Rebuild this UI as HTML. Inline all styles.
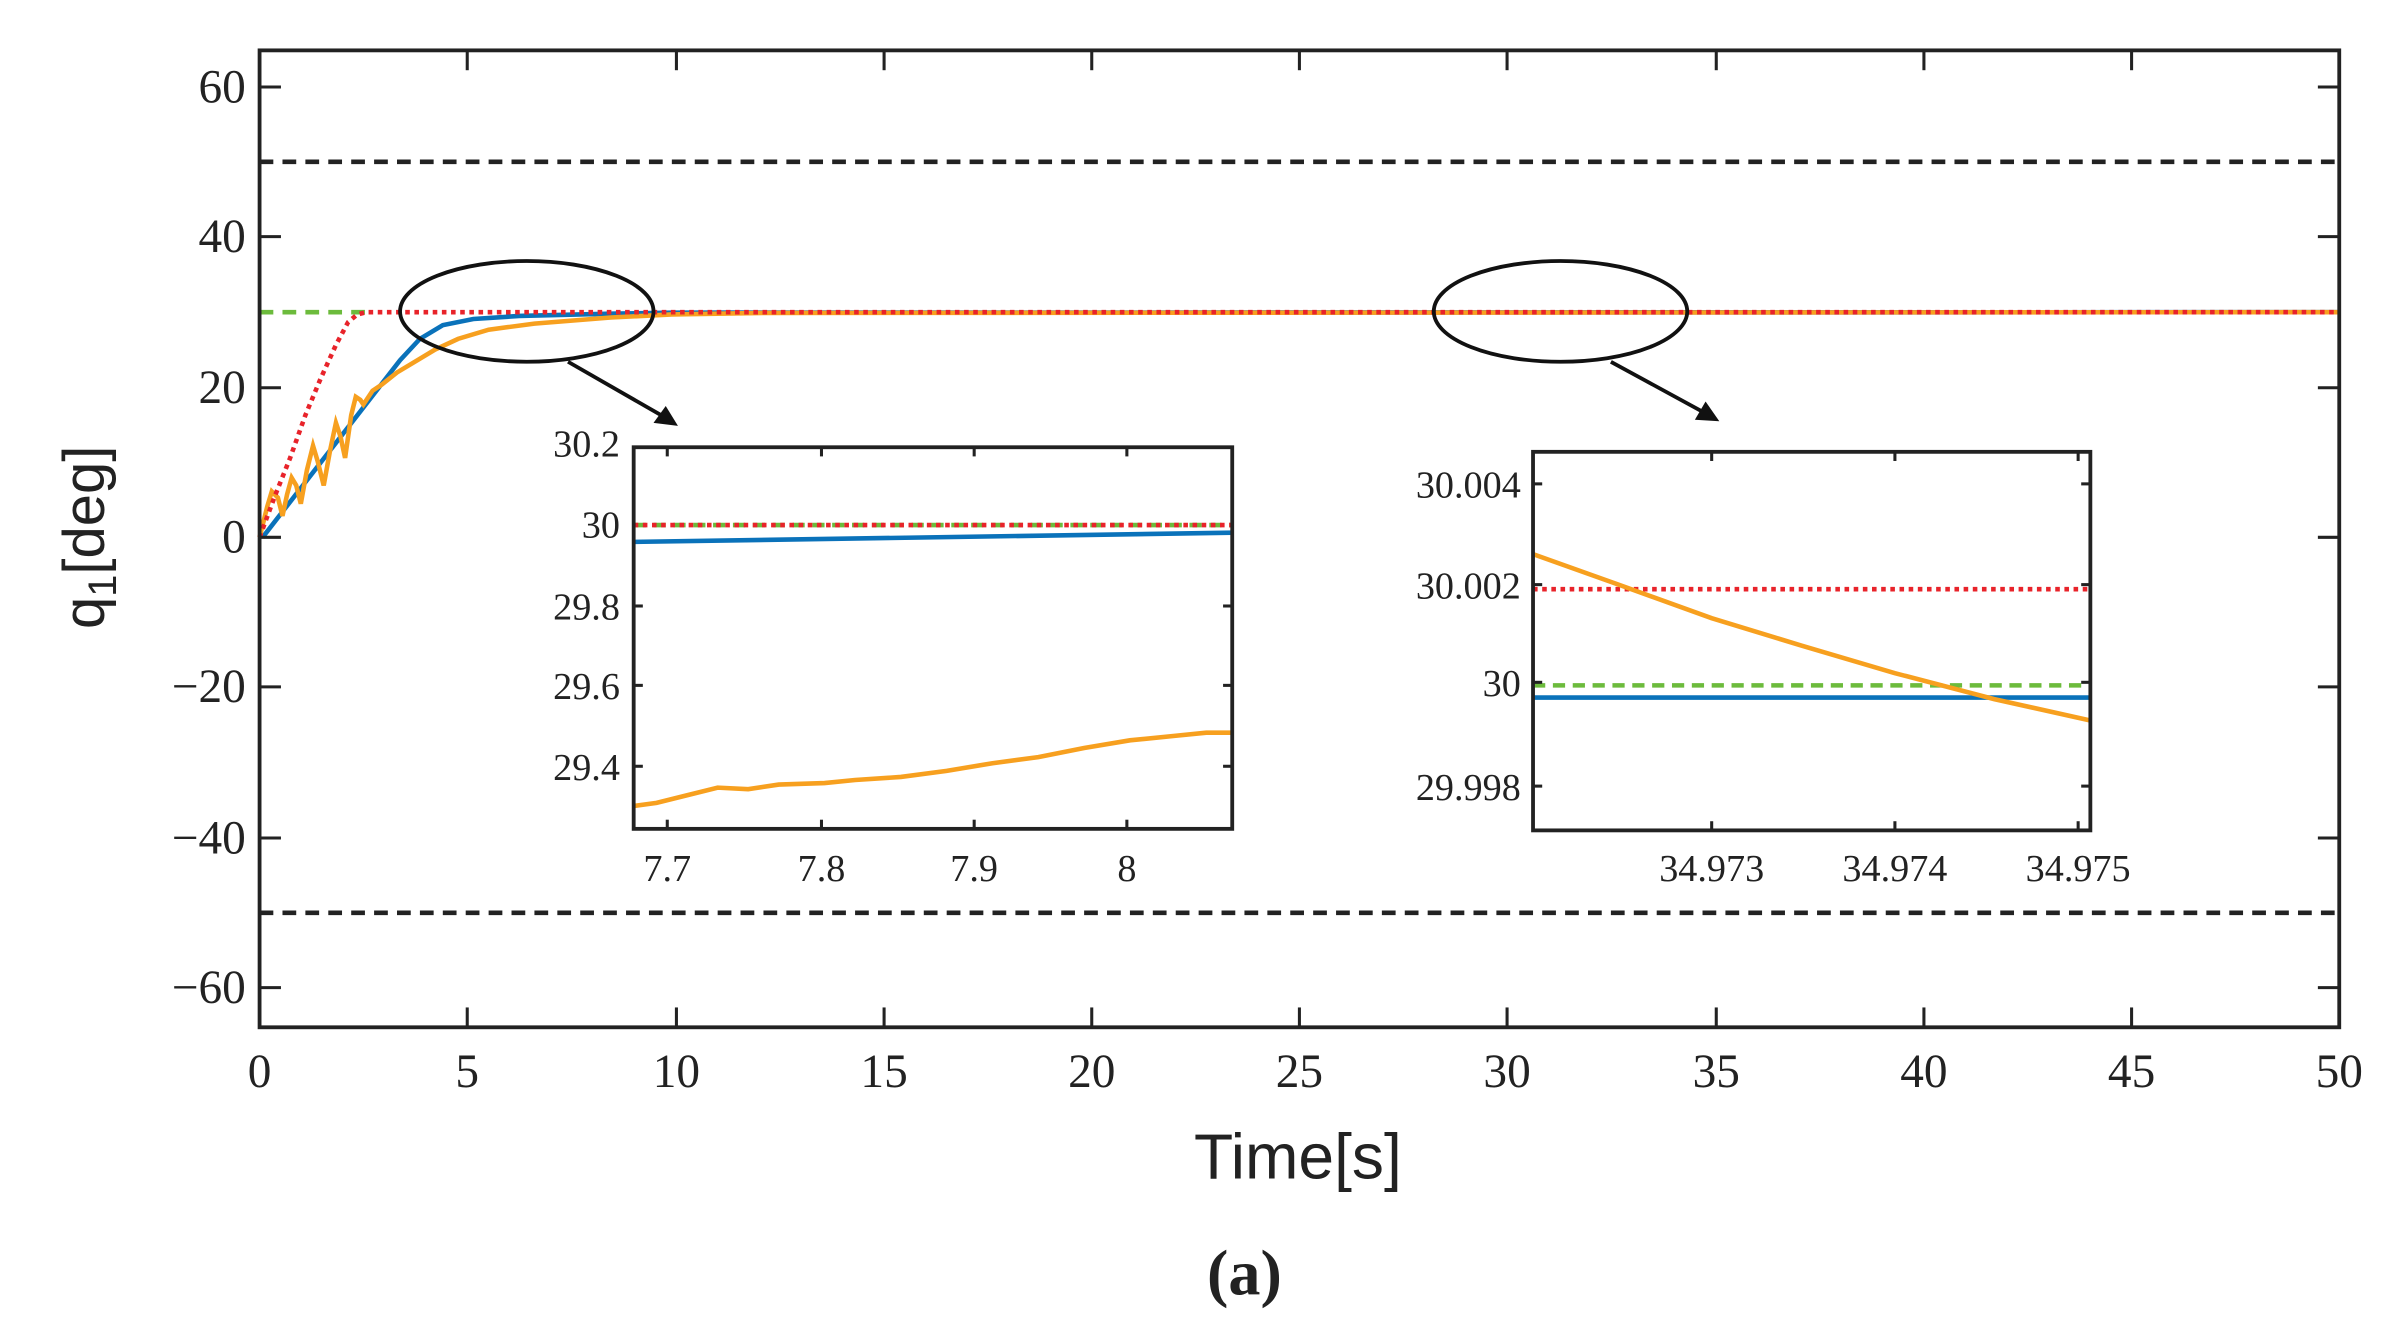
<!DOCTYPE html>
<html><head><meta charset="utf-8"><style>
html,body{margin:0;padding:0;background:#fff;}
svg{display:block;}
.t{font-family:"Liberation Serif",serif;fill:#222;}
</style></head><body>
<svg width="2382" height="1328" viewBox="0 0 1560 870" preserveAspectRatio="none" xmlns="http://www.w3.org/2000/svg">
<rect width="1560" height="870" fill="#fff"/>
<!-- limit lines -->
<line x1="170" y1="106" x2="1532" y2="106" stroke="#222" stroke-width="3" stroke-dasharray="9,6"/>
<line x1="170" y1="598" x2="1532" y2="598" stroke="#222" stroke-width="3" stroke-dasharray="9,6"/>
<!-- main curves -->
<line x1="170" y1="204.5" x2="240" y2="204.5" stroke="#6cbb3c" stroke-width="3" stroke-dasharray="9,6"/>
<polyline fill="none" stroke="#0a72ba" stroke-width="3" points="172,352 262,236 275,222 290,213 310,209 340,207 400,205.5 440,204.8 1532,204.5"/>
<polyline fill="none" stroke="#f7a01f" stroke-width="3" points="170,352 175,332 178,322 182,326 185,338 188,324 191,313 194,318 197,330 201,308 205,292 208,302 212,318 216,296 220,277 223,286 226,300 230,272 233,260 236,262 238,265 244,256 250,252 260,244 270,238 285,229 300,222 320,216 350,212 400,208 440,206 500,205 1532,204.5"/>
<polyline fill="none" stroke="#e8232a" stroke-width="3" stroke-dasharray="3,3" points="170,352 180,325 190,300 200,272 210,248 220,226 228,211 234,206 240,204.5 1532,204.5"/>
<!-- axes -->
<rect x="170" y="33" width="1362" height="640" fill="none" stroke="#222" stroke-width="2.5"/>
<g stroke="#222" stroke-width="2">
<line x1="306" y1="673" x2="306" y2="660"/><line x1="443" y1="673" x2="443" y2="660"/><line x1="579" y1="673" x2="579" y2="660"/><line x1="715" y1="673" x2="715" y2="660"/><line x1="851" y1="673" x2="851" y2="660"/><line x1="987" y1="673" x2="987" y2="660"/><line x1="1124" y1="673" x2="1124" y2="660"/><line x1="1260" y1="673" x2="1260" y2="660"/><line x1="1396" y1="673" x2="1396" y2="660"/>
<line x1="306" y1="33" x2="306" y2="46"/><line x1="443" y1="33" x2="443" y2="46"/><line x1="579" y1="33" x2="579" y2="46"/><line x1="715" y1="33" x2="715" y2="46"/><line x1="851" y1="33" x2="851" y2="46"/><line x1="987" y1="33" x2="987" y2="46"/><line x1="1124" y1="33" x2="1124" y2="46"/><line x1="1260" y1="33" x2="1260" y2="46"/><line x1="1396" y1="33" x2="1396" y2="46"/>
<line x1="170" y1="57" x2="184" y2="57"/><line x1="170" y1="155" x2="184" y2="155"/><line x1="170" y1="254" x2="184" y2="254"/><line x1="170" y1="352" x2="184" y2="352"/><line x1="170" y1="450" x2="184" y2="450"/><line x1="170" y1="549" x2="184" y2="549"/><line x1="170" y1="647" x2="184" y2="647"/>
<line x1="1532" y1="57" x2="1518" y2="57"/><line x1="1532" y1="155" x2="1518" y2="155"/><line x1="1532" y1="254" x2="1518" y2="254"/><line x1="1532" y1="352" x2="1518" y2="352"/><line x1="1532" y1="450" x2="1518" y2="450"/><line x1="1532" y1="549" x2="1518" y2="549"/><line x1="1532" y1="647" x2="1518" y2="647"/>
</g>
<g class="t" font-size="31" text-anchor="end">
<text x="161" y="67">60</text><text x="161" y="165">40</text><text x="161" y="264">20</text><text x="161" y="362">0</text><text x="161" y="460">−20</text><text x="161" y="559">−40</text><text x="161" y="657">−60</text>
</g>
<g class="t" font-size="31" text-anchor="middle">
<text x="170" y="712">0</text><text x="306" y="712">5</text><text x="443" y="712">10</text><text x="579" y="712">15</text><text x="715" y="712">20</text><text x="851" y="712">25</text><text x="987" y="712">30</text><text x="1124" y="712">35</text><text x="1260" y="712">40</text><text x="1396" y="712">45</text><text x="1532" y="712">50</text>
</g>
<text transform="translate(68,352) rotate(-90)" text-anchor="middle" font-family="Liberation Sans,sans-serif" font-size="38" fill="#222">q<tspan font-size="26" dy="8">1</tspan><tspan dy="-8">[deg]</tspan></text>
<text x="850" y="772" text-anchor="middle" font-family="Liberation Sans,sans-serif" font-size="42" fill="#222">Time[s]</text>
<text x="815" y="848" text-anchor="middle" font-family="Liberation Serif,serif" font-weight="bold" font-size="42" fill="#222">(a)</text>
<!-- ellipses & arrows -->
<ellipse cx="345" cy="204" rx="83" ry="33" fill="none" stroke="#111" stroke-width="2.5"/>
<ellipse cx="1022" cy="204" rx="83" ry="33" fill="none" stroke="#111" stroke-width="2.5"/>
<line x1="372" y1="237" x2="440" y2="276" stroke="#111" stroke-width="2.5"/>
<polygon points="444,279 428,277 436,266" fill="#111"/>
<line x1="1055" y1="237" x2="1121" y2="273" stroke="#111" stroke-width="2.5"/>
<polygon points="1126,276 1110,275 1117,263" fill="#111"/>
<!-- inset 1 -->
<rect x="415" y="293" width="392" height="250" fill="#fff"/>
<line x1="415" y1="344" x2="807" y2="344" stroke="#6cbb3c" stroke-width="3" stroke-dasharray="8,5"/>
<line x1="415" y1="344" x2="807" y2="344" stroke="#e8232a" stroke-width="3" stroke-dasharray="3,3"/>
<polyline fill="none" stroke="#0a72ba" stroke-width="3" points="415,355 807,349"/>
<polyline fill="none" stroke="#f7a01f" stroke-width="3" points="415,528 430,526 450,521 470,516 490,517 510,514 540,513 560,511 590,509 620,505 650,500 680,496 710,490 740,485 770,482 790,480 807,480"/>
<rect x="415" y="293" width="392" height="250" fill="none" stroke="#222" stroke-width="2.5"/>
<g stroke="#222" stroke-width="2">
<line x1="437" y1="543" x2="437" y2="537"/><line x1="538" y1="543" x2="538" y2="537"/><line x1="638" y1="543" x2="638" y2="537"/><line x1="738" y1="543" x2="738" y2="537"/>
<line x1="437" y1="293" x2="437" y2="299"/><line x1="538" y1="293" x2="538" y2="299"/><line x1="638" y1="293" x2="638" y2="299"/><line x1="738" y1="293" x2="738" y2="299"/>
<line x1="415" y1="397" x2="421" y2="397"/><line x1="415" y1="449" x2="421" y2="449"/><line x1="415" y1="502" x2="421" y2="502"/>
<line x1="807" y1="397" x2="801" y2="397"/><line x1="807" y1="449" x2="801" y2="449"/><line x1="807" y1="502" x2="801" y2="502"/>
</g>
<g class="t" font-size="25" text-anchor="end">
<text x="406" y="299">30.2</text><text x="406" y="352">30</text><text x="406" y="406">29.8</text><text x="406" y="458">29.6</text><text x="406" y="511">29.4</text>
</g>
<g class="t" font-size="25" text-anchor="middle">
<text x="437" y="577">7.7</text><text x="538" y="577">7.8</text><text x="638" y="577">7.9</text><text x="738" y="577">8</text>
</g>
<!-- inset 2 -->
<rect x="1004" y="296" width="365" height="248" fill="#fff"/>
<line x1="1004" y1="386" x2="1369" y2="386" stroke="#e8232a" stroke-width="3" stroke-dasharray="3,3"/>
<line x1="1004" y1="449" x2="1369" y2="449" stroke="#6cbb3c" stroke-width="3" stroke-dasharray="8,5"/>
<line x1="1004" y1="457" x2="1369" y2="457" stroke="#0a72ba" stroke-width="3"/>
<polyline fill="none" stroke="#f7a01f" stroke-width="3" points="1004,363 1060,383 1121,405 1180,423 1241,441 1306,458 1369,472"/>
<rect x="1004" y="296" width="365" height="248" fill="none" stroke="#222" stroke-width="2.5"/>
<g stroke="#222" stroke-width="2">
<line x1="1121" y1="544" x2="1121" y2="538"/><line x1="1241" y1="544" x2="1241" y2="538"/><line x1="1361" y1="544" x2="1361" y2="538"/>
<line x1="1121" y1="296" x2="1121" y2="302"/><line x1="1241" y1="296" x2="1241" y2="302"/><line x1="1361" y1="296" x2="1361" y2="302"/>
<line x1="1004" y1="317" x2="1010" y2="317"/><line x1="1004" y1="383" x2="1010" y2="383"/><line x1="1004" y1="447" x2="1010" y2="447"/><line x1="1004" y1="515" x2="1010" y2="515"/>
<line x1="1369" y1="317" x2="1363" y2="317"/><line x1="1369" y1="383" x2="1363" y2="383"/><line x1="1369" y1="447" x2="1363" y2="447"/><line x1="1369" y1="515" x2="1363" y2="515"/>
</g>
<g class="t" font-size="25" text-anchor="end">
<text x="996" y="326">30.004</text><text x="996" y="392">30.002</text><text x="996" y="456">30</text><text x="996" y="524">29.998</text>
</g>
<g class="t" font-size="25" text-anchor="middle">
<text x="1121" y="577">34.973</text><text x="1241" y="577">34.974</text><text x="1361" y="577">34.975</text>
</g>
</svg>
</body></html>
